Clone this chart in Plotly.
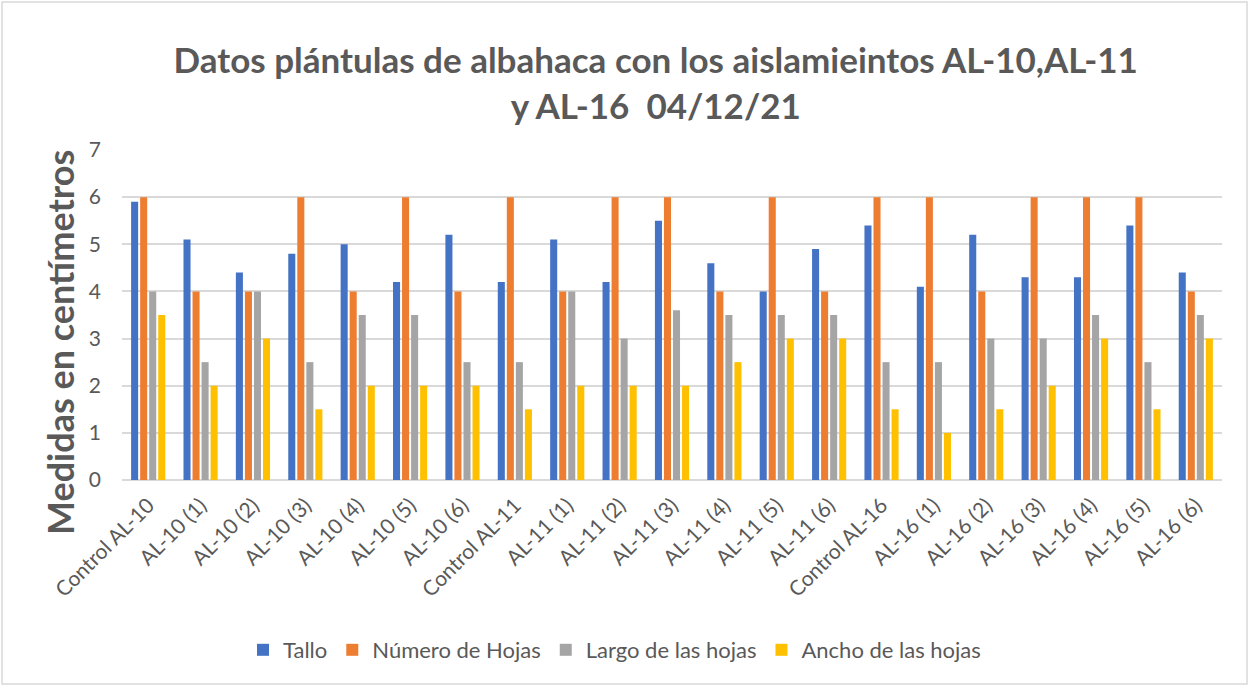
import plotly.graph_objects as go

categories = ["Control AL-10", "AL-10 (1)", "AL-10 (2)", "AL-10 (3)", "AL-10 (4)", "AL-10 (5)", "AL-10 (6)",
              "Control AL-11", "AL-11 (1)", "AL-11 (2)", "AL-11 (3)", "AL-11 (4)", "AL-11 (5)", "AL-11 (6)",
              "Control AL-16", "AL-16 (1)", "AL-16 (2)", "AL-16 (3)", "AL-16 (4)", "AL-16 (5)", "AL-16 (6)"]
tallo = [5.9, 5.1, 4.4, 4.8, 5.0, 4.2, 5.2, 4.2, 5.1, 4.2, 5.5, 4.6, 4.0, 4.9, 5.4, 4.1, 5.2, 4.3, 4.3, 5.4, 4.4]
numero_hojas = [6, 4, 4, 6, 4, 6, 4, 6, 4, 6, 6, 4, 6, 4, 6, 6, 4, 6, 6, 6, 4]
largo_hojas = [4, 2.5, 4, 2.5, 3.5, 3.5, 2.5, 2.5, 4, 3, 3.6, 3.5, 3.5, 3.5, 2.5, 2.5, 3, 3, 3.5, 2.5, 3.5]
ancho_hojas = [3.5, 2, 3, 1.5, 2, 2, 2, 1.5, 2, 2, 2, 2.5, 3, 3, 1.5, 1, 1.5, 2, 3, 1.5, 3]

series = [
    ("Tallo", tallo, "#4472C4"),
    ("Número de Hojas", numero_hojas, "#ED7D31"),
    ("Largo de las hojas", largo_hojas, "#A5A5A5"),
    ("Ancho de las hojas", ancho_hojas, "#FFC000"),
]

FONT = "Lato"
fig = go.Figure()
for name, vals, color in series:
    fig.add_trace(go.Bar(x=categories, y=vals, name=name, marker_color=color, marker_line_width=0))

L, R, T, B = 122, 27, 150, 206
W, H = 1249, 686
pw, ph = W - L - R, H - T - B

fig.update_layout(
    width=W, height=H,
    margin=dict(l=L, r=R, t=T, b=B, autoexpand=False),
    paper_bgcolor="white", plot_bgcolor="white",
    barmode="group", bargap=0.31, bargroupgap=0.22,
    font=dict(family=FONT, color="#595959"),
    title=dict(
        text="<b>Datos plántulas de albahaca con los aislamieintos AL-10,AL-11<br>y AL-16  04/12/21</b>",
        x=0.525, xanchor="center", y=1 - 73 / H, yanchor="middle",
        font=dict(size=35, color="#595959", family=FONT),
    ),
    xaxis=dict(
        tickangle=-45, tickfont=dict(size=21, color="#595959"), automargin=False,
        showgrid=False, showline=False, ticks="", ticklabelstandoff=8,
    ),
    yaxis=dict(
        range=[0, 7], dtick=1, tickfont=dict(size=21, color="#595959"), automargin=False,
        showgrid=True, gridcolor="#D9D9D9", gridwidth=1.5, zeroline=True,
        zerolinecolor="#D9D9D9", zerolinewidth=1.5, ticks="", ticklabelstandoff=20,
    ),
    legend=dict(
        orientation="h", x=(243 - L) / pw, xanchor="left", y=(480 - 650) / ph, yanchor="middle",
        font=dict(size=22, color="#595959"), itemwidth=30, traceorder="normal",
    ),
)

fig.add_annotation(
    text="<b>Medidas en centímetros</b>", textangle=-90, showarrow=False,
    xref="paper", yref="paper", x=(60 - L) / pw, y=(480 - 343) / ph,
    xanchor="center", yanchor="middle",
    font=dict(size=36, color="#595959", family=FONT),
)

fig.add_shape(
    type="rect", xref="paper", yref="paper",
    x0=(2 - L) / pw, x1=(W - 2 - L) / pw, y0=(480 - (H - 2)) / ph, y1=(480 - 2) / ph,
    line=dict(color="#D9D9D9", width=1.5), fillcolor="rgba(0,0,0,0)", layer="below",
)

fig.write_html("out.html", config={"displayModeBar": False},
               post_script="document.body.style.margin='0';document.body.style.overflow='hidden';")
